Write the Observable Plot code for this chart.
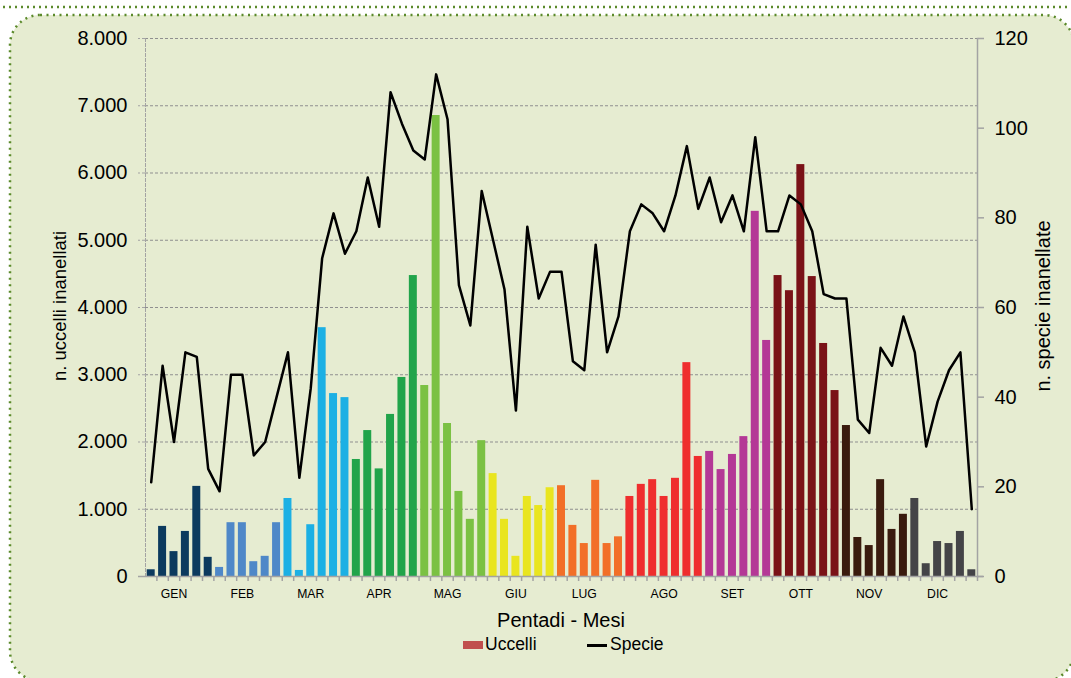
<!DOCTYPE html>
<html><head><meta charset="utf-8">
<script src="https://cdn.jsdelivr.net/npm/d3@7"></script>
<script src="https://cdn.jsdelivr.net/npm/@observablehq/plot@0.6"></script>
<style>
html,body{margin:0;padding:0;background:#fff;overflow:hidden;}
#wrap{position:relative;width:1071px;height:678px;overflow:hidden;font-family:"Liberation Sans",Arial,sans-serif;color:#000;}
#deco{position:absolute;left:0;top:0;}
#chart{position:absolute;left:0;top:0;}
.rot{position:absolute;white-space:nowrap;transform:translate(-50%,-50%) rotate(-90deg);}
.lbl{position:absolute;white-space:nowrap;}
</style>
</head><body>
<div id="wrap">
<svg id="deco" width="1071" height="678">
  <line x1="3" y1="7" x2="1071" y2="7" stroke="#5b8a2b" stroke-width="2.5" stroke-dasharray="2 4"/>
  <rect x="10" y="15" width="1064" height="666" rx="30" ry="30" fill="#e6ecd1" stroke="#5b8a2b" stroke-width="2.5" stroke-dasharray="2 4.5"/>
</svg>
<div id="chart"></div>
<div class="rot" style="left:60px;top:306px;font-size:18.5px;">n. uccelli inanellati</div>
<div class="rot" style="left:1043px;top:306px;font-size:20px;">n. specie inanellate</div>
<div class="lbl" style="left:561px;top:609px;font-size:20px;transform:translateX(-50%);">Pentadi - Mesi</div>
<div class="lbl" style="left:463px;top:641px;width:20px;height:8px;background:#c0504d;"></div>
<div class="lbl" style="left:485px;top:634px;font-size:17.5px;">Uccelli</div>
<div class="lbl" style="left:587px;top:644px;width:20px;height:2.5px;background:#000;"></div>
<div class="lbl" style="left:610px;top:634px;font-size:17.5px;">Specie</div>
</div>
<script>
const mesiNomi = ["GEN","FEB","MAR","APR","MAG","GIU","LUG","AGO","SET","OTT","NOV","DIC"];
const pentadiPerMese = [6,6,6,6,6,6,6,7,6,6,6,6];
const coloriMesi = ["#0c3a5e","#4f88c8","#1cb0e4","#21a44a","#7bc143","#e9e51f","#f26f28","#ef2e2e","#b43896","#7a1217","#3a1b0e","#444447"];
const uccelli = [100,745,370,670,1340,285, 135,800,800,220,300,800, 1160,90,770,3700,2720,2660,
  1740,2170,1600,2410,2960,4475, 2840,6855,2275,1265,850,2020, 1530,850,300,1190,1055,1320,
  1350,760,490,1430,490,590, 1190,1370,1440,1190,1460,3180,1785, 1860,1590,1815,2080,5430,3510,
  4475,4250,6125,4460,3465,2765, 2245,580,460,1440,700,925, 1160,190,520,490,670,100];
const specie = [21,47,30,50,49,24, 19,45,45,27,30,40, 50,22,42,71,81,72,
  77,89,78,108,101,95, 93,112,102,65,56,86, 75,64,37,78,62,68,
  68,48,46,74,50,58, 77,83,81,77,85,96,82, 89,79,85,77,98,77,
  77,85,83,77,63,62, 62,35,32,51,47,58, 50,29,39,46,50,15];
const tickUccelli = [0,1000,2000,3000,4000,5000,6000,7000,8000];
const tickSpecie = [0,20,40,60,80,100,120];

const k = 8000 / 120;
const pentadi = d3.range(1, uccelli.length + 1);
const data = [];
const labelPentadi = new Map();
let p = 1;
pentadiPerMese.forEach((n, m) => {
  labelPentadi.set(p + Math.floor((n - 1) / 2), mesiNomi[m]);
  for (let i = 0; i < n; i++, p++) data.push({p, u: uccelli[p - 1], s: specie[p - 1], mese: mesiNomi[m]});
});
const fmt = d3.formatLocale({decimal: ",", thousands: ".", grouping: [3], currency: ["", ""]}).format(",");
const W = 1071, mL = 145, mR = 94;
const step = (W - mL - mR) / pentadi.length;

const chart = Plot.plot({
  width: W, height: 610,
  marginLeft: mL, marginRight: mR, marginTop: 38, marginBottom: 34,
  style: {background: "transparent", fontFamily: "'Liberation Sans', Arial, sans-serif", color: "#000", overflow: "visible"},
  x: {type: "band", domain: pentadi, paddingInner: 0.3, paddingOuter: 0.15, round: false},
  y: {domain: [0, 8000]},
  color: {domain: mesiNomi, range: coloriMesi},
  marks: [
    Plot.gridY({ticks: tickUccelli.filter(d => d > 0), stroke: "#8f8f8f", strokeOpacity: 1, strokeDasharray: "3,2"}),
    Plot.frame({anchor: "left", stroke: "#a3a3a3", strokeDasharray: "3,2"}),
    Plot.frame({anchor: "right", stroke: "#a3a3a3", strokeWidth: 1.5}),
    Plot.barY(data, {x: "p", y: "u", fill: "mese"}),
    Plot.ruleY([0], {stroke: "#a3a3a3", strokeWidth: 1.5, insetLeft: -7, insetRight: -6}),
    Plot.line(data, {x: "p", y: d => d.s * k, stroke: "#000", strokeWidth: 2.5}),
    Plot.axisY({ticks: tickUccelli, tickFormat: fmt, tickSize: 7, tickPadding: 11, fontSize: 20,
      stroke: "#a3a3a3", strokeDasharray: "3,2", fill: "#000", label: null}),
    Plot.axisY({anchor: "right", ticks: tickSpecie.map(v => v * k), tickFormat: d => String(Math.round(d / k)),
      tickSize: 6, tickPadding: 11, fontSize: 20, stroke: "#a3a3a3", strokeWidth: 1.5, fill: "#000", label: null}),
    Plot.axisX({ticks: pentadi, tickFormat: () => "", tickSize: 5, dx: step / 2, stroke: "#a3a3a3", strokeWidth: 1.5, label: null}),
    Plot.axisX({ticks: [...labelPentadi.keys()], tickFormat: d => labelPentadi.get(d), tickSize: 0, tickPadding: 13,
      fontSize: 12.2, fill: "#000", label: null})
  ]
});
document.getElementById("chart").appendChild(chart);
</script>
</body></html>
